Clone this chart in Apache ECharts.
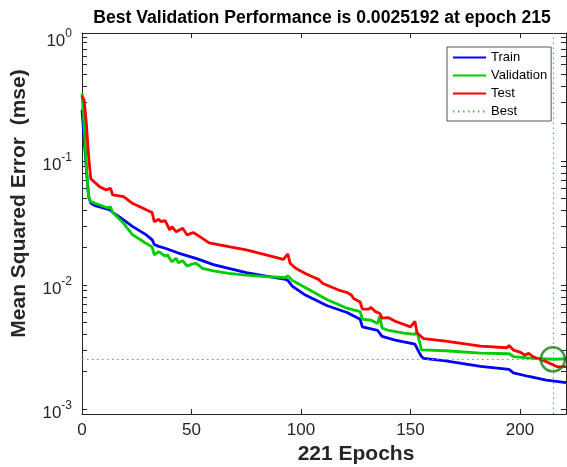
<!DOCTYPE html>
<html><head><meta charset="utf-8">
<script src="https://cdn.jsdelivr.net/npm/echarts@6/dist/echarts.min.js"></script>
<style>html,body{margin:0;padding:0;background:#fff}#c{width:567px;height:467px}</style>
</head><body><div id="c"></div>
<script>
// [epoch, mse]
const trainData = [
 [0,0.26],[1,0.15],[2,0.085],[3,0.052],[4,0.0458],[6,0.0436],[8,0.0426],[12,0.0408],[13,0.0402],
 [14,0.0385],[19,0.0335],[23,0.0297],[29,0.0256],[31,0.0240],[32,0.0232],[33,0.0212],[35,0.0205],
 [38,0.0198],[44,0.0181],[52,0.0164],[60,0.0146],[67,0.0136],[75,0.0126],[84,0.0118],[93,0.0111],
 [94,0.0109],[96,0.0098],[102,0.0083],[112,0.0068],[121,0.0060],[127,0.0053],[128,0.0046],
 [134,0.00434],[135,0.00430],[137,0.00385],[143,0.0036],[152,0.00334],[154,0.00285],[155,0.00265],
 [156,0.00256],[166,0.00245],[182,0.00221],[195,0.00209],[197,0.00196],[204,0.00183],[212,0.00171],
 [221,0.00163]
];
const validationData = [
 [0,0.35],[1,0.19],[2,0.088],[3,0.052],[4,0.047],[8,0.0442],[12,0.0418],[13,0.0428],[14,0.0385],
 [19,0.0314],[23,0.0255],[29,0.0218],[32,0.0203],[33,0.0175],[35,0.0186],[38,0.0171],[39,0.0175],
 [41,0.0154],[43,0.0164],[44,0.0151],[46,0.0157],[48,0.0142],[50,0.0147],[52,0.0150],[55,0.0136],
 [60,0.0130],[67,0.0124],[75,0.0120],[84,0.0117],[93,0.0115],[94,0.0119],[96,0.0109],[99,0.0102],
 [105,0.0089],[112,0.0076],[121,0.0065],[127,0.0061],[128,0.0053],[132,0.0052],[135,0.0049],
 [136,0.0056],[137,0.0045],[140,0.0043],[147,0.0041],[152,0.0040],[153,0.0042],[155,0.0030],
 [166,0.00295],[182,0.00282],[195,0.00279],[197,0.00265],[206,0.00256],[215,0.0025192],[221,0.00254]
];
const testData = [
 [0,0.334],[1,0.31],[2,0.2],[3,0.11],[4,0.072],[8,0.0621],[11,0.0585],[13,0.0603],[14,0.0532],
 [19,0.0515],[23,0.0456],[31,0.0392],[32,0.0385],[33,0.0324],[35,0.0339],[36,0.0324],[38,0.0330],
 [40,0.0278],[41,0.0295],[43,0.0269],[46,0.0287],[48,0.0253],[50,0.0262],[51,0.0264],[55,0.0238],
 [58,0.0219],[67,0.0204],[75,0.0192],[84,0.0175],[92,0.0161],[94,0.0178],[95,0.0150],[97,0.0139],
 [99,0.0132],[102,0.0124],[105,0.0117],[108,0.0111],[110,0.0103],[118,0.0090],[121,0.0087],
 [123,0.0083],[124,0.0078],[127,0.0073],[128,0.0064],[131,0.0064],[132,0.0066],[134,0.0061],
 [136,0.0059],[137,0.0054],[140,0.00545],[143,0.0051],[150,0.0046],[152,0.0051],[153,0.0041],
 [156,0.0037],[166,0.00353],[182,0.00322],[194,0.00312],[195,0.00325],[197,0.00299],[200,0.00288],
 [201,0.00281],[202,0.00272],[204,0.00281],[206,0.00264],[212,0.00241],[217,0.00219],[221,0.0022]
];
const bestEpoch = 215;
const bestValue = 0.0025192;
const maxEpoch = 221;
const xTicks = [0, 50, 100, 150, 200];
const yExponents = [-3, -2, -1, 0];
const legendNames = ['Train', 'Validation', 'Test', 'Best'];
const titleText = 'Best Validation Performance is 0.0025192 at epoch 215';
const xName = '221 Epochs';
const yName = 'Mean Squared Error  (mse)';

const lg = v => Math.log10(v);
const toLog = arr => arr.map(p => [p[0], lg(p[1])]);
const yMin = -3.04, yMax = 0.032;
const minorTicks = [];
for (let d = -3; d < 0; d++) for (let k = 1; k < 10; k++) minorTicks.push(d + Math.log10(k));
minorTicks.push(0);

const FONT = '"Liberation Sans", Arial, Helvetica, sans-serif';
const AX = '#262626';
const bestStyle = { color: '#45b845', width: 1, type: [1.5, 3.5] };
const axLine = { show: true, onZero: false, lineStyle: { color: AX, width: 1 } };

const chart = echarts.init(document.getElementById('c'), null, { renderer: 'canvas' });
chart.setOption({
  animation: false,
  backgroundColor: '#fff',
  title: {
    text: titleText, left: 322, top: 9, textAlign: 'center', padding: 0,
    textStyle: { fontSize: 17.6, fontWeight: 'bold', color: '#000', fontFamily: FONT }
  },
  legend: {
    data: legendNames, orient: 'vertical', left: 447, top: 47, padding: [4, 4, 3, 5],
    itemWidth: 33, itemHeight: 14, itemGap: 5, borderColor: '#555', borderWidth: 1,
    backgroundColor: '#fff', selectedMode: false, itemStyle: { opacity: 0 },
    textStyle: { fontSize: 13, color: '#000', fontFamily: FONT }
  },
  grid: { left: 82, right: 1, top: 33, bottom: 53, containLabel: false, outerBoundsMode: 'none' },
  xAxis: [
    {
      type: 'value', min: 0, max: maxEpoch, interval: 50, position: 'bottom',
      axisLine: axLine,
      axisTick: { show: true, inside: true, length: 5, customValues: xTicks, lineStyle: { color: AX } },
      axisLabel: { customValues: xTicks, fontSize: 17, color: AX, margin: 8, fontFamily: FONT },
      splitLine: { show: false },
      name: xName, nameLocation: 'middle', nameGap: 29,
      nameTextStyle: { fontSize: 21, fontWeight: 'bold', color: AX, fontFamily: FONT, padding: [0, 0, 0, 64] }
    },
    {
      type: 'value', min: 0, max: maxEpoch, interval: 50, position: 'top',
      axisLine: axLine,
      axisTick: { show: true, inside: true, length: 5, customValues: xTicks, lineStyle: { color: AX } },
      axisLabel: { show: false }, splitLine: { show: false }
    }
  ],
  yAxis: [
    {
      type: 'value', min: yMin, max: yMax, position: 'left',
      axisLine: axLine,
      axisTick: { show: true, inside: true, length: 5, customValues: minorTicks, lineStyle: { color: AX } },
      axisLabel: {
        customValues: yExponents, margin: 10,
        formatter: v => '{b|10}{s|' + Math.round(v) + '}',
        rich: {
          b: { fontSize: 17, color: AX, fontFamily: FONT, padding: [8, 0, 0, 0] },
          s: { fontSize: 12, color: AX, fontFamily: FONT, padding: [0, 0, 6, 0] }
        }
      },
      splitLine: { show: false },
      name: yName, nameLocation: 'middle', nameGap: 52,
      nameTextStyle: { fontSize: 21, fontWeight: 'bold', color: AX, fontFamily: FONT, padding: [0, 0, 0, 40] }
    },
    {
      type: 'value', min: yMin, max: yMax, position: 'right',
      axisLine: axLine,
      axisTick: { show: true, inside: true, length: 5, customValues: minorTicks, lineStyle: { color: AX } },
      axisLabel: { show: false }, splitLine: { show: false }
    }
  ],
  series: [
    {
      name: 'Best', type: 'line', data: [[bestEpoch, lg(bestValue)]], symbol: 'none',
      lineStyle: bestStyle, itemStyle: { color: bestStyle.color }, z: 1,
      markLine: {
        silent: true, symbol: 'none', label: { show: false }, lineStyle: bestStyle,
        emphasis: { disabled: true },
        data: [{ yAxis: lg(bestValue) }, { xAxis: bestEpoch }]
      }
    },
    { name: 'Train', type: 'line', data: toLog(trainData), symbol: 'none', z: 2,
      lineStyle: { color: '#0000ff', width: 2.8 }, itemStyle: { color: '#0000ff' } },
    { name: 'Validation', type: 'line', data: toLog(validationData), symbol: 'none', z: 3,
      lineStyle: { color: '#00cc00', width: 2.8 }, itemStyle: { color: '#00cc00' } },
    { name: 'Test', type: 'line', data: toLog(testData), symbol: 'none', z: 4,
      lineStyle: { color: '#ff0000', width: 2.8 }, itemStyle: { color: '#ff0000' } },
    { name: 'Best point', type: 'scatter', data: [[bestEpoch, lg(bestValue)]], symbol: 'circle',
      symbolSize: 24, z: 10, silent: true,
      itemStyle: { color: 'rgba(0,0,0,0)', borderColor: '#0a7f0a', borderWidth: 2.5 } }
  ]
});
</script></body></html>
